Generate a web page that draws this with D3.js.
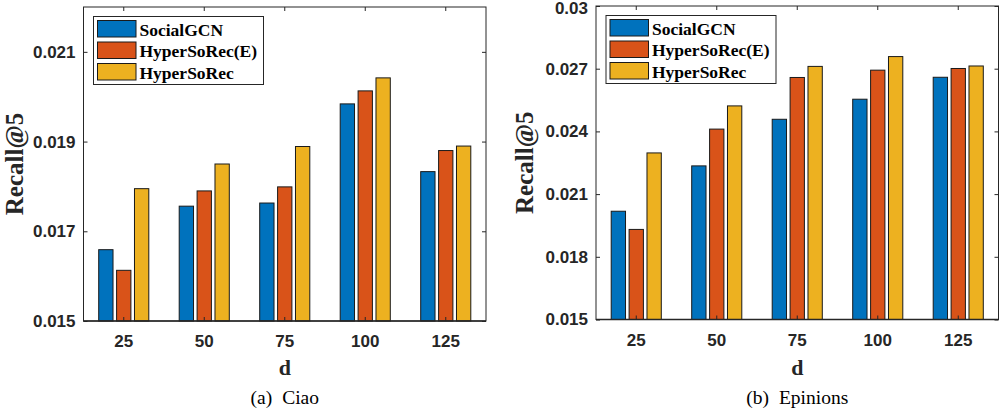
<!DOCTYPE html>
<html>
<head>
<meta charset="utf-8">
<script src="https://cdn.jsdelivr.net/npm/d3@7"></script>
<style>
  html, body { margin: 0; padding: 0; background: #fff; }
  svg { display: block; }
</style>
</head>
<body>
<svg id="chart" width="1004" height="412"></svg>
<script>
// ---------- data ----------
const categories = ["25", "50", "75", "100", "125"];
const seriesNames = ["SocialGCN", "HyperSoRec(E)", "HyperSoRec"];
const seriesColors = ["#0072BD", "#D95319", "#EDB120"];

const ciaoSocialGCN   = [0.01659, 0.01756, 0.01763, 0.01984, 0.01833];
const ciaoHyperSoRecE = [0.01613, 0.01790, 0.01799, 0.02013, 0.01880];
const ciaoHyperSoRec  = [0.01795, 0.01850, 0.01889, 0.02042, 0.01890];

const epSocialGCN   = [0.02018, 0.02235, 0.02458, 0.02554, 0.02659];
const epHyperSoRecE = [0.01931, 0.02411, 0.02658, 0.02693, 0.02701];
const epHyperSoRec  = [0.02297, 0.02522, 0.02711, 0.02758, 0.02713];

const ciaoYDomain = [0.015, 0.022];
const ciaoYTicks = [0.015, 0.017, 0.019, 0.021];
const ciaoYTickLabels = ["0.015", "0.017", "0.019", "0.021"];

const epYDomain = [0.015, 0.03];
const epYTicks = [0.015, 0.018, 0.021, 0.024, 0.027, 0.03];
const epYTickLabels = ["0.015", "0.018", "0.021", "0.024", "0.027", "0.03"];

const yLabel = "Recall@5";
const xLabel = "d";

// ---------- drawing ----------
const svg = d3.select("#chart");
const axisColor = "#262626";

function drawPanel(cfg) {
  const { left, right, top, bottom, series, yDomain, yTicks, yTickLabels, caption, yLabelX } = cfg;
  const g = svg.append("g");

  const x = d3.scaleBand().domain(categories).range([left, right]).paddingInner(0).paddingOuter(0);
  const groupW = x.bandwidth() * (3 / 4.5);
  const xs = d3.scaleBand().domain(d3.range(seriesNames.length)).range([-groupW / 2, groupW / 2]).paddingInner(0.2).paddingOuter(0.1);
  const y = d3.scaleLinear().domain(yDomain).range([bottom, top]);

  // bars
  series.forEach((vals, si) => {
    g.append("g").selectAll("rect").data(vals).join("rect")
      .attr("x", (d, i) => x(categories[i]) + x.bandwidth() / 2 + xs(si))
      .attr("width", xs.bandwidth())
      .attr("y", d => y(d))
      .attr("height", d => y(yDomain[0]) - y(d))
      .attr("fill", seriesColors[si])
      .attr("stroke", "#1a1a1a")
      .attr("stroke-width", 1);
  });

  // box
  g.append("rect")
    .attr("x", left).attr("y", top)
    .attr("width", right - left).attr("height", bottom - top)
    .attr("fill", "none").attr("stroke", axisColor).attr("stroke-width", 1);

  const tl = 4;
  // y ticks (left + right mirrored)
  const yAxisL = d3.axisLeft(y).tickValues(yTicks).tickSizeInner(-tl).tickSizeOuter(0)
    .tickFormat((d, i) => yTickLabels[i]).tickPadding(8);
  const gl = g.append("g").attr("transform", `translate(${left},0)`).call(yAxisL);
  gl.select(".domain").remove();
  gl.selectAll("line").attr("stroke", axisColor);
  gl.selectAll("text")
    .attr("font-family", "'Liberation Sans', Arial, sans-serif")
    .attr("font-weight", "bold").attr("font-size", 17).attr("fill", axisColor)
    .attr("dy", d => (y(d) - top < 8 ? "0.42em" : "0.32em"));

  const yAxisR = d3.axisRight(y).tickValues(yTicks).tickSizeInner(-tl).tickSizeOuter(0).tickFormat("");
  const gr = g.append("g").attr("transform", `translate(${right},0)`).call(yAxisR);
  gr.select(".domain").remove();
  gr.selectAll("line").attr("stroke", axisColor);

  // x ticks
  const xAxisB = d3.axisBottom(x).tickSizeInner(-tl).tickSizeOuter(0).tickPadding(14);
  const gb = g.append("g").attr("transform", `translate(0,${bottom})`).call(xAxisB);
  gb.select(".domain").remove();
  gb.selectAll("line").attr("stroke", axisColor);
  gb.selectAll("text")
    .attr("font-family", "'Liberation Sans', Arial, sans-serif")
    .attr("font-weight", "bold").attr("font-size", 17).attr("fill", axisColor);

  const xAxisT = d3.axisTop(x).tickSizeInner(-tl).tickSizeOuter(0).tickFormat("");
  const gt = g.append("g").attr("transform", `translate(0,${top})`).call(xAxisT);
  gt.select(".domain").remove();
  gt.selectAll("line").attr("stroke", axisColor);

  // bottom axis line a bit stronger
  g.append("line").attr("x1", left).attr("x2", right).attr("y1", bottom).attr("y2", bottom)
    .attr("stroke", axisColor).attr("stroke-width", 1.5);

  // axis labels
  const cx = (left + right) / 2;
  g.append("text").attr("x", cx).attr("y", 375).attr("text-anchor", "middle")
    .attr("font-family", "'Liberation Serif', 'Times New Roman', serif")
    .attr("font-weight", "bold").attr("font-size", 22).attr("fill", axisColor)
    .text(xLabel);
  g.append("text")
    .attr("transform", `translate(${yLabelX},${(top + bottom) / 2}) rotate(-90)`)
    .attr("text-anchor", "middle")
    .attr("font-family", "'Liberation Serif', 'Times New Roman', serif")
    .attr("font-weight", "bold").attr("font-size", 25).attr("fill", axisColor)
    .text(yLabel);

  // caption
  const cap = g.append("text").attr("x", cx).attr("y", 404).attr("text-anchor", "middle")
    .attr("font-family", "'Liberation Serif', 'Times New Roman', serif")
    .attr("font-size", 19.5).attr("fill", "#000");
  cap.append("tspan").text(caption[0]);
  cap.append("tspan").attr("dx", 10).text(caption[1]);

  // legend
  const lx = left + 10, ly = top + 9.5;
  const lw = 170, lh = 68;
  const lg = g.append("g");
  lg.append("rect").attr("x", lx).attr("y", ly).attr("width", lw).attr("height", lh)
    .attr("fill", "#fff").attr("stroke", axisColor).attr("stroke-width", 1);
  const rowH = 21.5;
  seriesNames.forEach((name, i) => {
    const ry = ly + 4 + i * rowH;
    lg.append("rect").attr("x", lx + 4).attr("y", ry).attr("width", 38.5).attr("height", 16.5)
      .attr("fill", seriesColors[i]).attr("stroke", "#1a1a1a").attr("stroke-width", 1);
    lg.append("text").attr("x", lx + 46).attr("y", ry + 15)
      .attr("font-family", "'Liberation Serif', 'Times New Roman', serif")
      .attr("font-weight", "bold").attr("font-size", 17.5).attr("fill", "#000")
      .text(name);
  });
}

drawPanel({
  left: 83.5, right: 486, top: 7, bottom: 321,
  series: [ciaoSocialGCN, ciaoHyperSoRecE, ciaoHyperSoRec],
  yDomain: ciaoYDomain, yTicks: ciaoYTicks, yTickLabels: ciaoYTickLabels,
  caption: ["(a)", "Ciao"], yLabelX: 23
});
drawPanel({
  left: 596, right: 998.5, top: 6, bottom: 319.5,
  series: [epSocialGCN, epHyperSoRecE, epHyperSoRec],
  yDomain: epYDomain, yTicks: epYTicks, yTickLabels: epYTickLabels,
  caption: ["(b)", "Epinions"], yLabelX: 533
});
</script>
</body>
</html>
